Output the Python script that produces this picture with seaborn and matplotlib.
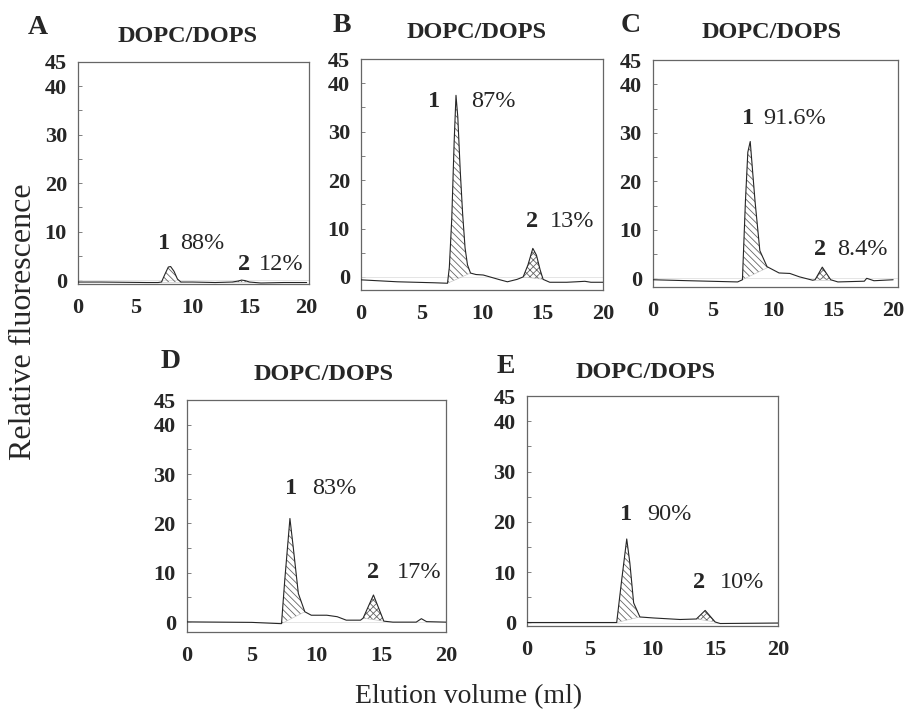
import numpy as np
import matplotlib
matplotlib.use("Agg")
import matplotlib.pyplot as plt
import seaborn as sns

sns.set_theme(style="white")
plt.rcParams['font.family'] = ['Liberation Serif', 'DejaVu Serif']
plt.rcParams['hatch.linewidth'] = 0.6

# elution profiles (x in ml, y relative fluorescence)
a_x = [0, 2, 4, 6, 7, 7.3, 7.6, 7.9, 8.1, 8.4, 8.7, 9, 10, 12, 13.5, 14, 14.3, 14.6, 15, 16, 18, 20]
a_y = [-0.4, -0.4, -0.45, -0.5, -0.5, -0.4, 1.2, 2.7, 2.8, 1.8, 0.2, -0.4, -0.4, -0.5, -0.4, -0.2, 0.0, -0.1, -0.4, -0.6, -0.5, -0.5]

b_x = [0, 3, 6, 7.15, 7.3, 7.5, 7.7, 7.85, 8.0, 8.2, 8.4, 8.6, 8.8, 9.05, 9.5, 10.1, 11.5, 12.1, 12.9,
       13.4, 13.8, 14.2, 14.5, 14.8, 15.05, 15.6, 17, 17.8, 18.5, 19, 20]
b_y = [-0.6, -1.0, -1.2, -1.3, 2, 12, 28, 37.5, 33, 22, 13, 6, 2.5, 0.8, 0.5, 0.4, -0.6, -1.0, -0.5,
       0.0, 2.5, 5.9, 4.5, 1.5, -0.5, -1.1, -1.1, -1.0, -0.9, -1.1, -1.1]

c_x = [0, 3, 7.05, 7.45, 7.7, 7.9, 8.1, 8.3, 8.5, 8.9, 9.5, 10.5, 11.4, 12.2, 13.3, 13.5, 14.1,
       14.8, 15.4, 17.6, 17.8, 18.4, 20]
c_y = [-0.3, -0.5, -0.75, -0.3, 15.9, 26, 28.2, 22, 15.9, 5.7, 2.4, 1.1, 1.0, 0.3, -0.4, -0.3, 2.3,
       -0.3, -0.75, -0.6, 0.0, -0.5, -0.3]

d_x = [0, 5, 7.2, 7.3, 7.55, 7.95, 8.2, 8.6, 9.1, 9.6, 10.8, 11.6, 12.3, 13.4, 13.6, 14.4, 15.2,
       15.9, 17.7, 18.1, 18.5, 20]
d_y = [0.05, -0.05, -0.3, -0.3, 8.5, 21.0, 15.3, 5.8, 2.1, 1.4, 1.4, 1.1, 0.4, 0.4, 0.8, 5.5, 0.2,
       0.0, 0.0, 0.7, 0.1, 0.0]

e_x = [0, 5, 7.15, 7.55, 7.95, 8.2, 8.5, 9.0, 10.1, 12.2, 13.5, 14.2, 15.0, 15.4, 20]
e_y = [0, 0, 0, 8.5, 16.6, 11.8, 3.9, 1.1, 0.9, 0.6, 0.7, 2.4, 0.1, -0.2, -0.1]

panel_letters = ['A', 'B', 'C', 'D', 'E']
peak1_pct = ['88%', '87%', '91.6%', '83%', '90%']
peak2_pct = ['12%', '13%', '8.4%', '17%', '10%']
# hatched windows (ml) under peak 1 and peak 2
peak1_win = [(7.3, 9.0), (7.15, 9.05), (7.45, 9.6), (7.3, 9.1), (7.15, 9.0)]
peak2_win = [(13.5, 15.0), (13.4, 15.05), (13.5, 14.8), (13.6, 15.2), (13.5, 15.0)]

# layout: axes rectangles in figure fractions, axis limits, label spots
rects = [(0.0862, 0.6006, 0.2552, 0.3122), (0.3989, 0.5921, 0.2674, 0.3249),
         (0.7215, 0.5963, 0.2707, 0.3193), (0.2066, 0.1111, 0.2862, 0.3263),
         (0.5823, 0.1195, 0.2773, 0.3235)]
xlims = [(0, 20.2), (0, 20), (0, 20.4), (0, 20), (0, 20)]
ylims = [(-0.8, 45), (-2.7, 45), (-1.8, 45), (-2.0, 45), (-0.7, 45)]
lab1 = [(7.5, 7.6, 8.9), (6.0, 36.3, 9.1), (7.9, 32.9, 9.2), (8.0, 27.0, 9.65), (7.9, 21.5, 9.6)]
lab2 = [(14.5, 3.3, 15.8), (14.1, 11.5, 15.6), (13.9, 5.9, 15.3), (14.4, 10.0, 16.2), (13.7, 8.0, 15.4)]
letter_px = [(38, 27), (342, 26), (631, 26), (171, 362), (506, 366)]
title_px = [(188, 36), (477, 33), (772, 33), (324, 375), (646, 372)]

W, H = 905, 711
fig = plt.figure(figsize=(W / 100, H / 100), dpi=100)
fig.patch.set_facecolor('white')

curves = [(a_x, a_y), (b_x, b_y), (c_x, c_y), (d_x, d_y), (e_x, e_y)]

for i, (xs, ys) in enumerate(curves):
    ax = fig.add_axes(rects[i])
    ax.set_facecolor('white')
    x = np.array(xs, dtype=float)
    y = np.array(ys, dtype=float)
    ax.axhline(0, color='0.88', lw=0.6, zorder=1)

    # hatched peak areas between the trace and a straight base line
    for (lo, hi), hatch in [(peak1_win[i], '\\\\\\\\\\'), (peak2_win[i], 'xxxxx')]:
        xx = np.linspace(lo, hi, 200)
        yy = np.interp(xx, x, y)
        base = np.interp(xx, [lo, hi], [yy[0], yy[-1]])
        ax.fill_between(xx, base, yy, facecolor='none', edgecolor='0.4',
                        hatch=hatch, linewidth=0, zorder=2)
        ax.plot([lo, hi], [yy[0], yy[-1]], color='0.75', lw=0.4, zorder=2)

    sns.lineplot(x=x, y=y, ax=ax, color='0.15', lw=0.8, zorder=3)

    ax.set_xlim(*xlims[i])
    ax.set_ylim(*ylims[i])
    ax.set_xticks([0, 5, 10, 15, 20])
    ax.set_yticks([0, 10, 20, 30, 40, 45])
    ax.set_yticks([5, 15, 25, 35], minor=True)
    ax.tick_params(axis='x', direction='out', length=3, width=0.7, color='0.4',
                   pad=7, labelsize=16)
    ax.tick_params(axis='y', which='both', direction='in', length=3, width=0.7,
                   color='0.5', pad=8, labelsize=16, left=True)
    for lbl in ax.get_xticklabels() + ax.get_yticklabels():
        lbl.set_fontweight('bold')
    for sp in ax.spines.values():
        sp.set_color('0.4')
        sp.set_linewidth(0.9)
    ax.set_xlabel('')
    ax.set_ylabel('')

    # peak annotations
    x1, y1, p1 = lab1[i]
    ax.text(x1, y1, '1', ha='center', va='center', fontsize=17.5, fontweight='bold')
    ax.text(p1, y1, peak1_pct[i], ha='left', va='center', fontsize=17.5)
    x2, y2, p2 = lab2[i]
    ax.text(x2, y2, '2', ha='center', va='center', fontsize=17.5, fontweight='bold')
    ax.text(p2, y2, peak2_pct[i], ha='left', va='center', fontsize=17.5)

    lx, ly = letter_px[i]
    fig.text(lx / W, 1 - ly / H, panel_letters[i], ha='center', va='center',
             fontsize=20, fontweight='bold')
    tx, ty = title_px[i]
    fig.text(tx / W, 1 - ty / H, 'DOPC/DOPS', ha='center', va='center',
             fontsize=17.5, fontweight='bold')

fig.text(24 / W, 1 - 322 / H, 'Relative fluorescence', rotation=90,
         ha='center', va='center', fontsize=23)
fig.text(469 / W, 1 - 697 / H, 'Elution volume (ml)', ha='center', va='center',
         fontsize=20)

fig.savefig('out.png', dpi=100, facecolor='white')
